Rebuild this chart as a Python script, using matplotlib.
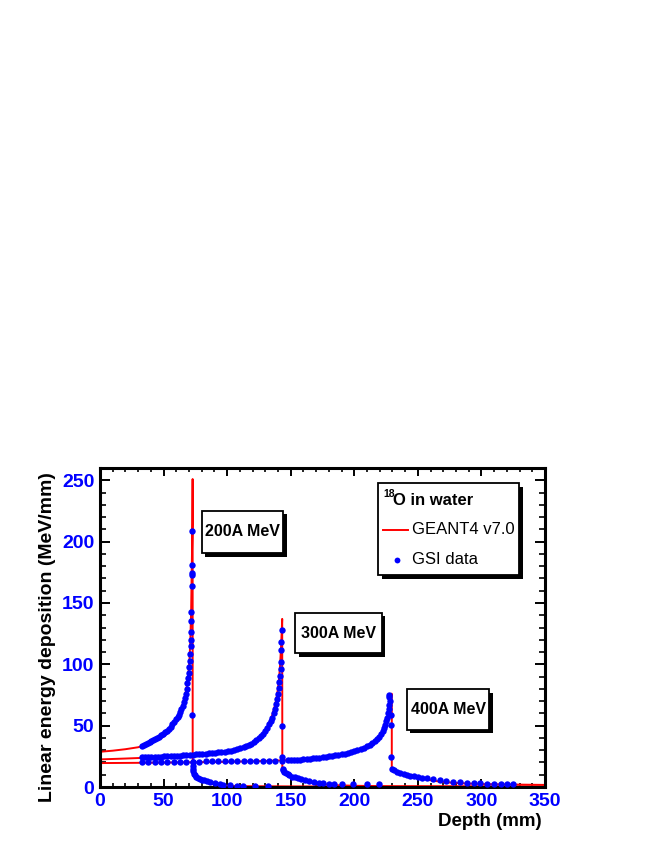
import matplotlib
matplotlib.use("Agg")
import matplotlib.pyplot as plt
import matplotlib.patches as mpatches
from matplotlib.ticker import MultipleLocator

plt.rcParams['font.family'] = ['Liberation Sans', 'DejaVu Sans']

W, H = 664, 860

# GEANT4 v7.0 curves: (depth mm, MeV/mm)
g200 = [(0, 28.7), (10, 29.6), (20, 30.8), (30, 32.4), (40, 35.4), (50, 41.0),
        (55, 45.5), (60, 54.5), (63, 61.0), (65, 67.0), (67, 75.0), (68.5, 83.0),
        (69.5, 92.0), (70.4, 104.0), (71.1, 121.0), (71.7, 145.0), (72.2, 180.0),
        (72.7, 215.0), (72.85, 251.0), (72.9, 14.0), (73.4, 12.0), (75, 8.0),
        (78, 5.5), (84, 3.5), (90, 2.0), (97, 1.0), (110, 0.7), (150, 0.5),
        (250, 0.4), (350, 0.3)]
g300 = [(0, 22.5), (20, 23.2), (40, 24.0), (60, 25.0), (80, 26.4), (100, 28.6),
        (110, 31.0), (118, 34.5), (124, 39.0), (128, 43.5), (132, 50.0), (135, 57.0),
        (137, 64.0), (138.6, 71.0), (139.8, 79.0), (140.8, 88.0), (141.6, 99.0),
        (142.3, 112.0), (142.9, 126.0), (143.3, 137.0), (143.4, 16.0), (144, 14.0),
        (145.5, 11.0), (148, 9.0), (152, 7.0), (160, 4.8), (168, 3.2), (176, 2.2),
        (185, 1.5), (200, 1.0), (230, 0.6), (350, 0.4)]
g400 = [(0, 19.5), (30, 19.7), (60, 20.0), (100, 20.5), (130, 21.2), (150, 22.0),
        (165, 23.3), (180, 25.0), (190, 26.5), (200, 28.5), (207, 30.5), (212, 33.0),
        (216, 36.0), (219, 39.5), (222, 44.0), (224, 48.5), (225.5, 53.0),
        (226.8, 58.0), (227.8, 64.0), (228.6, 70.0), (229.2, 76.0), (229.5, 76.0),
        (229.5, 16.0), (231, 14.0), (235, 12.0), (240, 10.0), (250, 7.5), (260, 5.5),
        (270, 4.0), (285, 3.0), (300, 2.4), (325, 2.0), (350, 1.7)]

# GSI data points
d200 = [(33, 33.5), (34.5, 34.1), (36, 34.8), (37.5, 35.5), (39, 36.3), (40.5, 37.1),
        (42, 38.0), (43.5, 38.9), (45, 39.9), (46.5, 40.9), (48, 42.0), (49.5, 43.2),
        (51, 44.5), (52.5, 45.9), (54, 47.4), (55.5, 49.1), (57, 51.0), (58.5, 53.1),
        (60, 55.3), (61, 57.0), (62, 58.9), (63, 61.0), (64, 63.3), (65, 66.0),
        (66, 69.0), (66.8, 72.5), (67.5, 76.0), (68.2, 80.0), (68.8, 84.5),
        (69.3, 88.5), (69.8, 93.0), (70.2, 97.5), (70.6, 102.5), (70.9, 108.5),
        (71.2, 115.0), (71.4, 120.0), (71.5, 126.5), (71.7, 135.0), (71.8, 143.0),
        (72.0, 164.0), (72.1, 172.5), (72.2, 174.5), (72.4, 181.0), (72.2, 208.5),
        (72.6, 59.0), (73.0, 20.0), (73.1, 17.5), (73.3, 15.0), (73.5, 13.0),
        (74.0, 11.0), (74.8, 9.5), (75.8, 8.3), (77.0, 7.4), (78.5, 6.6), (80.0, 6.0),
        (82.0, 5.3), (84.0, 4.8), (86.5, 4.1), (90.5, 3.0), (94.0, 2.2), (97.0, 1.6),
        (102.0, 1.3), (107.5, 1.0), (112.7, 1.0), (122.0, 1.0), (132.4, 0.8)]
d300 = [(33, 24.2), (35.5, 24.3), (38, 24.4), (40.5, 24.5), (43, 24.6), (45.5, 24.7),
        (48, 24.8), (50.5, 24.9), (53, 25.0), (55.5, 25.1), (58, 25.3), (60.5, 25.4),
        (63, 25.6), (65.5, 25.7), (68, 25.9), (70.5, 26.1), (73, 26.3), (75.5, 26.5),
        (78, 26.7), (80.5, 26.9), (83, 27.1), (85.5, 27.4), (88, 27.6), (90.5, 27.9),
        (93, 28.2), (95.5, 28.5), (98, 28.9), (100.5, 29.3), (103, 29.7),
        (105.5, 30.2), (108, 30.8), (110.5, 31.5), (113, 32.3), (115, 33.1),
        (117, 34.0), (119, 35.1), (121, 36.4), (123, 37.9), (125, 39.6), (127, 41.6),
        (128.5, 43.5), (130, 45.6), (131.5, 48.0), (133, 51.0), (134.2, 53.5),
        (135.4, 56.5), (136.5, 60.0), (137.5, 63.5), (138.4, 67.5), (139.2, 71.5),
        (139.9, 76.0), (140.5, 80.5), (141.1, 85.5), (141.6, 90.5), (142.0, 96.5),
        (142.2, 102.0), (142.4, 111.6), (142.7, 118.3), (142.8, 127.8),
        (142.9, 49.7), (143.3, 24.7), (143.7, 15.0), (144.3, 13.5), (145.0, 12.5),
        (146.0, 11.2), (147.5, 10.2), (149.0, 9.4), (151.0, 8.5), (153.0, 7.8),
        (155.5, 7.0), (158.0, 6.4), (161.0, 5.7), (164.0, 5.0), (168.0, 4.3),
        (172.0, 3.6), (175.7, 3.0), (180.0, 2.8), (184.0, 2.6), (190.0, 2.6),
        (199.0, 2.5), (210.0, 2.3), (219.6, 2.2)]
d400 = [(33, 20.5), (38, 20.5), (43, 20.5), (48, 20.6), (53, 20.6), (58, 20.6),
        (63, 20.6), (68, 20.7), (73, 20.7), (78, 20.7), (83, 20.8), (88, 20.8),
        (93, 20.8), (98, 20.9), (103, 20.9), (108, 21.0), (113, 21.0), (118, 21.1),
        (123, 21.2), (128, 21.2), (133, 21.3), (138, 21.4), (143, 21.5), (148, 21.7),
        (150, 21.8), (152.5, 21.9), (155, 22.1), (157.5, 22.3), (160, 22.5),
        (162.5, 22.7), (165, 23.0), (167.5, 23.3), (170, 23.6), (172.5, 23.9),
        (175, 24.2), (177.5, 24.5), (180, 24.9), (182.5, 25.3), (185, 25.7),
        (187.5, 26.2), (190, 26.7), (192.5, 27.3), (195, 27.9), (197.5, 28.6),
        (200, 29.3), (202.5, 30.1), (205, 31.0), (207.5, 32.0), (210, 33.2),
        (212, 34.3), (214, 35.6), (216, 37.2), (218, 39.0), (219.5, 40.8),
        (221, 43.0), (222.3, 45.3), (223.5, 48.0), (224.5, 50.8), (225.3, 53.5),
        (226, 56.5), (226.6, 60.0), (227.2, 63.5), (227.6, 67.0), (227.8, 70.5),
        (227.6, 73.5), (227.6, 75.0), (228.5, 58.6), (229.0, 50.5), (229.2, 24.7),
        (229.5, 15.0), (231, 13.5), (233.4, 12.4), (236, 11.3), (239, 10.5),
        (241.5, 9.9), (244, 9.3), (247, 8.6), (250, 8.0), (253.5, 7.5), (257, 7.0),
        (262, 6.2), (267.5, 5.4), (272.5, 4.7), (277.7, 4.0), (283, 3.8),
        (288.4, 3.5), (294, 3.2), (299, 3.0), (304.5, 2.8), (310, 2.7), (315, 2.5),
        (320, 2.4), (325, 2.2)]

energy_labels = ["200A MeV", "300A MeV", "400A MeV"]


def fx(px):
    return px / W


def fy(py):
    return 1 - py / H


def shadow_box(fig, x0, y0, x1, y1, off=3.5):
    # ROOT-like pave with black drop shadow (pixel coords, y downward)
    sh = mpatches.Rectangle((fx(x0 + off), fy(y1 + off)), fx(x1 - x0), (y1 - y0) / H,
                            transform=fig.transFigure, facecolor="black",
                            edgecolor="black", lw=0, zorder=10)
    bx = mpatches.Rectangle((fx(x0), fy(y1)), fx(x1 - x0), (y1 - y0) / H,
                            transform=fig.transFigure, facecolor="white",
                            edgecolor="black", lw=1.3, zorder=11)
    fig.add_artist(sh)
    fig.add_artist(bx)


fig = plt.figure(figsize=(W / 100, H / 100), dpi=100)
ax = fig.add_axes([fx(100), fy(787), fx(445), 319 / H])

for g in (g200, g300, g400):
    xs, ys = zip(*g)
    ax.plot(xs, ys, color="red", lw=1.4, zorder=2)
for d in (d200, d300, d400):
    xs, ys = zip(*d)
    ax.plot(xs, ys, "o", color="blue", ms=4.6, mew=0, zorder=3)

ax.set_xlim(0, 350)
ax.set_ylim(0, 260)
ax.xaxis.set_major_locator(MultipleLocator(50))
ax.xaxis.set_minor_locator(MultipleLocator(10))
ax.yaxis.set_major_locator(MultipleLocator(50))
ax.yaxis.set_minor_locator(MultipleLocator(10))
ax.tick_params(axis="both", which="both", direction="in", top=True, right=True,
               colors="black", labelcolor="blue", labelsize=14)
ax.tick_params(axis="x", which="major", length=6, width=1.4, pad=4)
ax.tick_params(axis="x", which="minor", length=3, width=1.2)
ax.tick_params(axis="y", which="major", length=7.5, width=1.4, pad=4)
ax.tick_params(axis="y", which="minor", length=4.3, width=1.2)
for lbl in ax.get_xticklabels() + ax.get_yticklabels():
    lbl.set_fontweight("bold")
for sp in ax.spines.values():
    sp.set_linewidth(2.2)

fig.text(fx(542), fy(813), "Depth (mm)", ha="right", va="top",
         fontsize=13.5, fontweight="bold")
fig.text(fx(48), fy(472), "Linear energy deposition (MeV/mm)", rotation=90,
         ha="center", va="top", fontsize=14, fontweight="bold")

# energy labels
boxes = [(201.7, 510.7, 283.3, 553.3), (295, 612.7, 381.7, 653.3),
         (406.7, 689.3, 489.5, 729.5)]
for (x0, y0, x1, y1), lab in zip(boxes, energy_labels):
    shadow_box(fig, x0, y0, x1, y1)
    fig.text(fx((x0 + x1) / 2), fy((y0 + y1) / 2), lab, ha="center", va="center",
             fontsize=11.5, fontweight="bold", zorder=12)

# legend pave
shadow_box(fig, 377.7, 483.3, 519, 575, off=4)
fig.text(fx(383), fy(494), "18", ha="left", va="center", fontsize=7.5,
         fontweight="bold", zorder=12)
fig.text(fx(393), fy(501), "O in water", ha="left", va="center", fontsize=12,
         fontweight="bold", zorder=12)
fig.add_artist(plt.Line2D([fx(383), fx(408)], [fy(530), fy(530)], color="red",
                          lw=1.4, transform=fig.transFigure, zorder=12))
fig.text(fx(411.7), fy(530), "GEANT4 v7.0", ha="left", va="center", fontsize=12,
         zorder=12)
fig.add_artist(plt.Line2D([fx(396.7)], [fy(560)], marker="o", color="blue", ms=4.2,
                          mew=0, transform=fig.transFigure, zorder=12))
fig.text(fx(411.7), fy(560), "GSI data", ha="left", va="center", fontsize=12,
         zorder=12)

fig.savefig("out.png", dpi=100)
